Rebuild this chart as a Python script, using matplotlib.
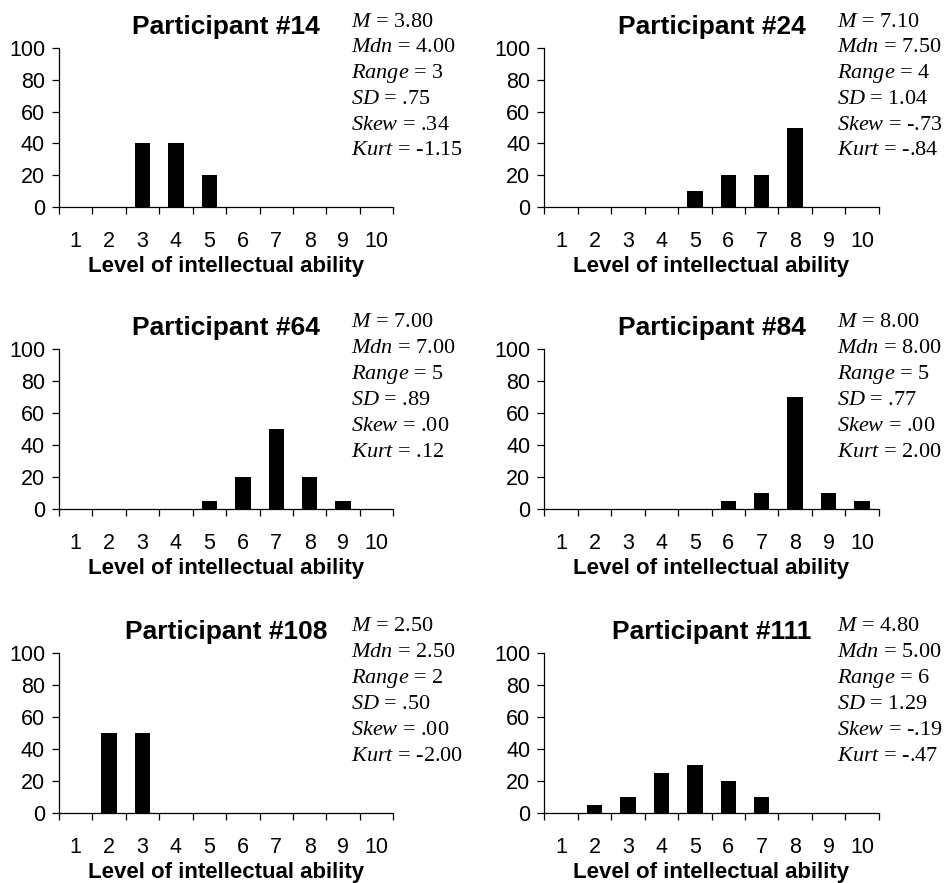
"""Six participant histograms of rated intellectual ability levels."""
import matplotlib
matplotlib.use("Agg")
import matplotlib.pyplot as plt
import numpy as np

plt.rcParams["font.family"] = ["Liberation Sans", "DejaVu Sans"]
plt.rcParams["mathtext.fontset"] = "custom"
plt.rcParams["mathtext.it"] = "Liberation Serif:italic"
plt.rcParams["mathtext.rm"] = "Liberation Serif"

levels = np.arange(1, 11)

participants = ["Participant #14", "Participant #24", "Participant #64",
                "Participant #84", "Participant #108", "Participant #111"]

# percentage of ratings at each level 1..10
p14 = [0, 0, 40, 40, 20, 0, 0, 0, 0, 0]
p24 = [0, 0, 0, 0, 10, 20, 20, 50, 0, 0]
p64 = [0, 0, 0, 0, 5, 20, 50, 20, 5, 0]
p84 = [0, 0, 0, 0, 0, 5, 10, 70, 10, 5]
p108 = [0, 50, 50, 0, 0, 0, 0, 0, 0, 0]
p111 = [0, 5, 10, 25, 30, 20, 10, 0, 0, 0]
values = [p14, p24, p64, p84, p108, p111]

stat_names = ["M", "Mdn", "Range", "SD", "Skew", "Kurt"]
stats14 = ["3.80", "4.00", "3", ".75", ".34", "-1.15"]
stats24 = ["7.10", "7.50", "4", "1.04", "-.73", "-.84"]
stats64 = ["7.00", "7.00", "5", ".89", ".00", ".12"]
stats84 = ["8.00", "8.00", "5", ".77", ".00", "2.00"]
stats108 = ["2.50", "2.50", "2", ".50", ".00", "-2.00"]
stats111 = ["4.80", "5.00", "6", "1.29", "-.19", "-.47"]
stats = [stats14, stats24, stats64, stats84, stats108, stats111]

fig = plt.figure(figsize=(9.5, 8.83), dpi=100)

lefts = [0.062, 0.573]
rows = [(0.7656, 0.18), (0.4236, 0.1812), (0.0793, 0.1812)]
width = 0.352

for i, (name, vals, st) in enumerate(zip(participants, values, stats)):
    bottom, height = rows[i // 2]
    ax = fig.add_axes([lefts[i % 2], bottom, width, height])
    ax.bar(levels, vals, width=0.46, color="black")
    ax.set_xlim(0.5, 10.5)
    ax.set_ylim(0, 100)
    ax.spines[["top", "right"]].set_visible(False)
    for s in ["left", "bottom"]:
        ax.spines[s].set_linewidth(0.9)
    ax.set_yticks(np.arange(0, 101, 20))
    ax.set_xticks(levels)
    ax.set_xticks(np.arange(0.5, 11, 1), minor=True)
    ax.tick_params(axis="x", which="major", length=0, pad=17, labelsize=15.5)
    ax.tick_params(axis="x", which="minor", length=5, width=0.9, direction="out")
    ax.tick_params(axis="y", length=5, width=0.9, labelsize=15.5, pad=5)
    ax.set_xlabel("Level of intellectual ability", fontsize=16,
                  fontweight="bold", labelpad=3)
    ax.set_title(name, fontsize=19, fontweight="bold", pad=10)
    for k, (sn, sv) in enumerate(zip(stat_names, st)):
        ax.text(0.875, 1.135 - k * 0.162, rf"$\mathit{{{sn}}}$ = {sv}",
                transform=ax.transAxes, va="baseline", ha="left",
                fontsize=16, family="Liberation Serif")

fig.savefig("out.png", dpi=100)
